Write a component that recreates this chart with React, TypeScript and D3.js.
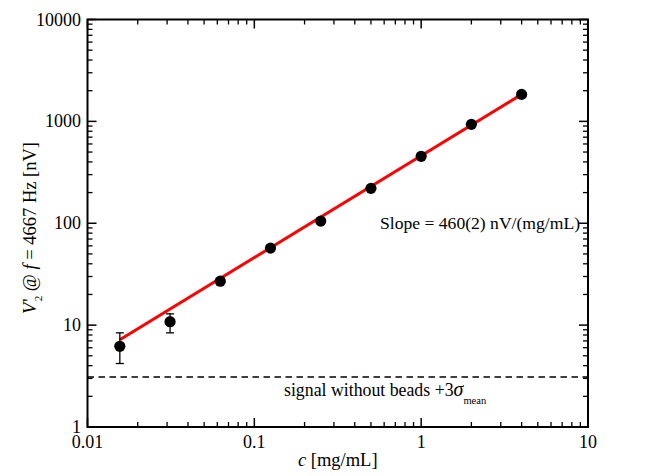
import React from "react";
import * as d3 from "d3";

const conc = [0.015625, 0.03125, 0.0625, 0.125, 0.25, 0.5, 1, 2, 4];
const signal = [6.2, 10.8, 27, 57, 105, 220, 454, 935, 1840];
const errLow = [4.2, 8.4, 27, 57, 105, 220, 454, 935, 1840];
const errHigh = [8.4, 12.9, 27, 57, 105, 220, 454, 935, 1840];
const slope = 460;
const fitRange = [0.015625, 4];
const noiseLevel = 3.1;
const xTicks = [0.01, 0.1, 1, 10];
const yTicks = [1, 10, 100, 1000, 10000];

const W = 664, H = 476;
const L = 87.5, R = 588, T = 19.5, B = 427;
const FONT = "'Liberation Serif', 'Times New Roman', serif";

export default function App() {
  const x = d3.scaleLog().domain([0.01, 10]).range([L, R]);
  const y = d3.scaleLog().domain([1, 10000]).range([B, T]);

  const minorX: number[] = [];
  for (let d = 0.01; d < 10; d *= 10) for (let k = 2; k <= 9; k++) minorX.push(d * k);
  const minorY: number[] = [];
  for (let d = 1; d < 10000; d *= 10) for (let k = 2; k <= 9; k++) minorY.push(d * k);

  const line = d3.line<number>().x((c) => x(c)).y((c) => y(slope * c));
  const major = 9, minor = 5;

  return (
    <svg width={W} height={H} style={{ position: "absolute", left: 0, top: 0, fontFamily: FONT }}>
      <rect x={0} y={0} width={W} height={H} fill="white" />
      {/* dashed noise line */}
      <line x1={L} x2={R} y1={y(noiseLevel)} y2={y(noiseLevel)} stroke="black" strokeWidth={1.6} strokeDasharray="6.5,4.5" />
      {/* fit line */}
      <path d={line(fitRange) || ""} stroke="#ff0000" strokeWidth={3} fill="none" />
      {/* error bars */}
      {conc.map((c, i) =>
        errHigh[i] > errLow[i] ? (
          <g key={"e" + i} stroke="black" strokeWidth={1.3}>
            <line x1={x(c)} x2={x(c)} y1={y(errLow[i])} y2={y(errHigh[i])} />
            <line x1={x(c) - 4} x2={x(c) + 4} y1={y(errLow[i])} y2={y(errLow[i])} />
            <line x1={x(c) - 4} x2={x(c) + 4} y1={y(errHigh[i])} y2={y(errHigh[i])} />
          </g>
        ) : null
      )}
      {conc.map((c, i) => (
        <circle key={"p" + i} cx={x(c)} cy={y(signal[i])} r={5.6} fill="black" />
      ))}
      {/* axes frame */}
      <rect x={L} y={T} width={R - L} height={B - T} fill="none" stroke="black" strokeWidth={2} />
      {/* x ticks */}
      {xTicks.map((t) => (
        <g key={"xt" + t} stroke="black" strokeWidth={1.5}>
          <line x1={x(t)} x2={x(t)} y1={B} y2={B - major} />
          <line x1={x(t)} x2={x(t)} y1={T} y2={T + major} />
        </g>
      ))}
      {minorX.map((t, i) => (
        <g key={"xm" + i} stroke="black" strokeWidth={1.3}>
          <line x1={x(t)} x2={x(t)} y1={B} y2={B - minor} />
          <line x1={x(t)} x2={x(t)} y1={T} y2={T + minor} />
        </g>
      ))}
      {yTicks.map((t) => (
        <g key={"yt" + t} stroke="black" strokeWidth={1.5}>
          <line x1={L} x2={L + major} y1={y(t)} y2={y(t)} />
          <line x1={R} x2={R - major} y1={y(t)} y2={y(t)} />
        </g>
      ))}
      {minorY.map((t, i) => (
        <g key={"ym" + i} stroke="black" strokeWidth={1.3}>
          <line x1={L} x2={L + minor} y1={y(t)} y2={y(t)} />
          <line x1={R} x2={R - minor} y1={y(t)} y2={y(t)} />
        </g>
      ))}
      {/* tick labels */}
      {xTicks.map((t) => (
        <text key={"xl" + t} x={x(t)} y={B + 21} fontSize={18} textAnchor="middle">
          {String(t)}
        </text>
      ))}
      {yTicks.map((t) => (
        <text key={"yl" + t} x={L - 6.5} y={y(t) + 6} fontSize={18} textAnchor="end">
          {String(t)}
        </text>
      ))}
      {/* axis titles */}
      <text x={(L + R) / 2} y={466} fontSize={18.5} textAnchor="middle">
        <tspan fontStyle="italic">c</tspan> [mg/mL]
      </text>
      <text transform="translate(36,228) rotate(-90)" fontSize={18.5} textAnchor="middle">
        <tspan fontStyle="italic">V</tspan>
        <tspan dx={1}>'</tspan>
        <tspan fontSize={11} dx={-3} dy={6}>2</tspan>
        <tspan dy={-6}> @ </tspan>
        <tspan fontStyle="italic">f</tspan>
        <tspan> = 4667 Hz [nV]</tspan>
      </text>
      {/* annotations */}
      <text x={380} y={229} fontSize={17.6}>Slope = 460(2) nV/(mg/mL)</text>
      <text x={284} y={396} fontSize={17.8}>
        signal without beads +3<tspan fontStyle="italic" fontSize={20}>σ</tspan>
        <tspan fontSize={10.5} dy={8}>mean</tspan>
      </text>
    </svg>
  );
}
